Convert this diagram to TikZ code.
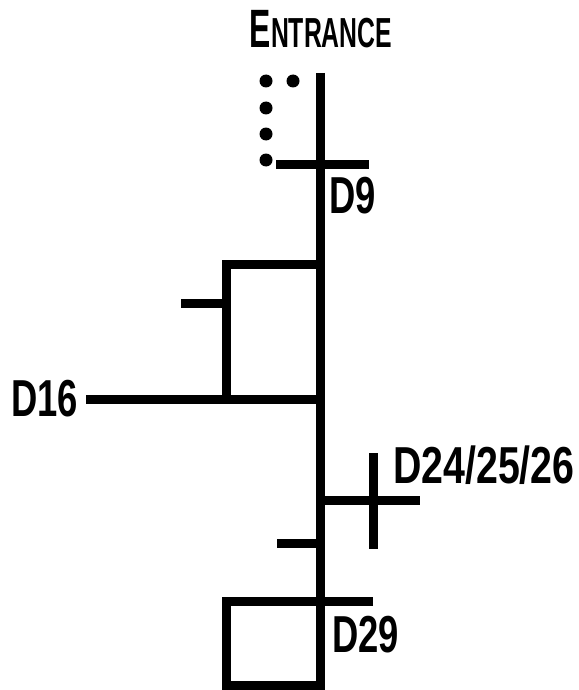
\documentclass[tikz,border=0pt]{standalone}
\usepackage{fontspec}
\setmainfont{Liberation Sans}
\usetikzlibrary{positioning}

\tikzset{
  track/.style={line width=9pt},
  stop/.style={circle, fill=black, inner sep=0pt, minimum size=13pt},
  tag/.style={font=\bfseries\fontsize{52}{52}\selectfont, inner sep=0pt, xscale=0.7}
}

\begin{document}
\begin{tikzpicture}[x=1pt, y=-1pt]
\useasboundingbox (0,0) rectangle (578,690);

% main line
\coordinate (TOP) at (320,73);
\coordinate (BOT) at (320,690);
\draw[track] (TOP) -- (BOT);

% first crossing
\coordinate (C1L) at (276,164);
\coordinate (C1R) at (369,164);
\draw[track] (C1L) -- (C1R);

% dots
\node[stop] (dota) at (266,81) {};
\node[stop] (dotb) at (293,81) {};
\node[stop] (dotc) at (266,108) {};
\node[stop] (dotd) at (266,134) {};
\node[stop] (dote) at (266,160) {};

% upper loop
\coordinate (UTR) at (320,264);
\coordinate (UTL) at (226,264);
\coordinate (UBL) at (226,399);
\coordinate (UBR) at (320,399);
\coordinate (SIDE) at (86,399);
\coordinate (TICKA) at (181,303);
\coordinate (TICKB) at (226,303);
\draw[track] (UTR) -- (UTL) -- (UBL);
\draw[track] (SIDE) -- (UBR);
\draw[track] (TICKA) -- (TICKB);

% branch with cross
\coordinate (BRA) at (320,500);
\coordinate (BRB) at (420,500);
\coordinate (CRA) at (373,453);
\coordinate (CRB) at (373,549);
\draw[track] (BRA) -- (BRB);
\draw[track] (CRA) -- (CRB);
\coordinate (TICKC) at (277,543);
\coordinate (TICKD) at (320,543);
\draw[track] (TICKC) -- (TICKD);

% lower loop
\coordinate (LTR) at (373,601);
\coordinate (LTL) at (226,601);
\coordinate (LBL) at (226,685);
\coordinate (LBR) at (324,685);
\draw[track] (LTR) -- (LTL) -- (LBL) -- (LBR);

% labels
\node[anchor=base, inner sep=0pt, xscale=0.59, font=\bfseries] (entrance) at (321,48)
  {{\fontsize{54}{54}\selectfont E}{\fontsize{42}{42}\selectfont NTRANCE}};
\node[tag, anchor=base west] (dnine) at (329,213) {D9};
\node[tag, anchor=base west] (dsixteen) at (11,416) {D16};
\node[tag, anchor=base west, xscale=1.08] (dtwofour) at (393,483) {D24/25/26};
\node[tag, anchor=base west] (dtwonine) at (332,652) {D29};

\end{tikzpicture}
\end{document}
